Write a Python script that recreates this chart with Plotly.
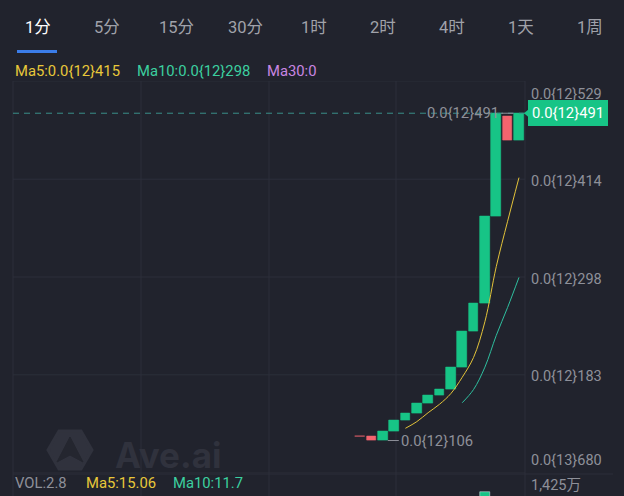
import plotly.graph_objects as go

W, H = 624, 496

# ---------------- data ----------------
tabs = ["1分", "5分", "15分", "30分", "1时", "2时", "4时", "1天", "1周"]
candle_idx = list(range(15))
opens = [111.2, 111.0, 105.8, 117.0, 129.0, 138.0, 150.0, 159.0, 166.5, 192.0, 234.0, 267.0, 370.0, 488.0, 459.0]
closes = [110.9, 105.8, 117.0, 129.0, 138.0, 150.0, 159.0, 166.5, 192.0, 234.0, 267.0, 370.0, 491.5, 459.0, 491.5]
ma5 = [None, None, None, None, 120.2, 128.0, 138.6, 148.5, 161.1, 180.3, 203.7, 245.9, 310.8, 364.2, 415.6]
ma10 = [None, None, None, None, None, None, None, None, None, 150.3, 165.9, 192.3, 229.7, 262.7, 298.0]
volume = [12, 30, 85, 140, 160, 190, 210, 170, 420, 680, 610, 1077, 930, 380, 260]
price_ticks = [68.0, 183.25, 298.5, 413.75, 529.0]
price_tick_labels = ["0.0{13}680", "0.0{12}183", "0.0{12}298", "0.0{12}414", "0.0{12}529"]
vol_axis_label = "1,425万"
legend_top = [("Ma5:0.0{12}415", "#e8c83a"), ("Ma10:0.0{12}298", "#3cd0a0"), ("Ma30:0", "#c986e2")]
legend_vol = [("VOL:2.8", "#8e9099"), ("Ma5:15.06", "#e8c83a"), ("Ma10:11.7", "#3cd0a0")]
last_label = "0.0{12}491"
max_label = "0.0{12}491"
min_label = "0.0{12}106"

# ---------------- style ----------------
BG = "#21232d"
GRID = "#2c2f3a"
GRAY = "#8e9099"
GREEN = "#17c486"
RED = "#f3646e"
YEL = "#e3c33a"
TEAL = "#2fbf9f"
FONT = "Roboto, 'Noto Sans CJK SC', sans-serif"


def px(x):
    return x / W


def py(y):
    return 1 - y / H


x_range = [-30.55, 14.53]
y_range = [68.0, 529.0]
dom_x = [px(13), px(525)]
dom_y = [py(472.6), py(81.4)]

colors = [GREEN if c >= o else RED for o, c in zip(opens, closes)]

fig = go.Figure()

# candles as bars
fig.add_trace(go.Bar(
    x=candle_idx, base=opens, y=[c - o for o, c in zip(opens, closes)],
    marker=dict(color=colors, line=dict(color=colors, width=0.6)),
    width=0.85, xaxis="x", yaxis="y", hoverinfo="skip", showlegend=False))

fig.add_trace(go.Scatter(x=candle_idx, y=ma5, mode="lines",
                         line=dict(color=YEL, width=1, shape="spline"),
                         xaxis="x", yaxis="y", showlegend=False, hoverinfo="skip"))
fig.add_trace(go.Scatter(x=candle_idx, y=ma10, mode="lines",
                         line=dict(color=TEAL, width=1, shape="spline"),
                         xaxis="x", yaxis="y", showlegend=False, hoverinfo="skip"))

# volume pane
fig.add_trace(go.Bar(x=candle_idx, y=volume, marker=dict(color=colors), width=0.85,
                     xaxis="x2", yaxis="y2", hoverinfo="skip", showlegend=False))

shapes = []
annotations = []

# horizontal grid lines
for v in price_ticks:
    shapes.append(dict(type="line", xref="paper", yref="y", x0=dom_x[0], x1=dom_x[1], y0=v, y1=v,
                       line=dict(color=GRID, width=1), layer="below"))
# bottom separator extends under labels
shapes.append(dict(type="line", xref="paper", yref="paper", x0=dom_x[0], x1=px(613), y0=py(474), y1=py(474),
                   line=dict(color=GRID, width=1), layer="below"))
# vertical grid lines
for xv in [13, 141, 269, 396, 525]:
    shapes.append(dict(type="line", xref="paper", yref="paper", x0=px(xv), x1=px(xv), y0=0, y1=py(81),
                       line=dict(color=GRID, width=1), layer="below"))

# watermark logo
hexa = [(48, 450), (59, 431), (81, 431), (92, 450), (81, 469), (59, 469)]
path = "M " + " L ".join(f"{px(a):.5f},{py(b):.5f}" for a, b in hexa) + " Z"
shapes.append(dict(type="path", xref="paper", yref="paper", path=path,
                   fillcolor="#30323d", line=dict(color="#30323d", width=3), layer="below"))
arrow = [(70, 437), (57, 462), (70, 455), (83, 462)]
path2 = "M " + " L ".join(f"{px(a):.5f},{py(b):.5f}" for a, b in arrow) + " Z"
shapes.append(dict(type="path", xref="paper", yref="paper", path=path2,
                   fillcolor="#24262f", line=dict(color="#24262f", width=1), layer="below"))
annotations.append(dict(xref="paper", yref="paper", x=px(113), y=py(455), text="<b>Ave.ai</b>",
                        showarrow=False, xanchor="left", yanchor="middle",
                        font=dict(family="Inter, Roboto, sans-serif", size=35, color="#30323d")))

# current price dashed line
shapes.append(dict(type="line", xref="paper", yref="y", x0=dom_x[0], x1=dom_x[1],
                   y0=closes[-1], y1=closes[-1], line=dict(color="#3a8f89", width=1, dash="6px,5px")))

# header tabs
for i, t in enumerate(tabs):
    annotations.append(dict(xref="paper", yref="paper", x=px(38 + 69 * i), y=py(28), text=t,
                            showarrow=False, xanchor="center", yanchor="middle",
                            font=dict(family=FONT, size=16.5, color="#ffffff" if i == 0 else "#a0a2aa")))
shapes.append(dict(type="rect", xref="paper", yref="paper", x0=px(17), x1=px(57), y0=py(53), y1=py(50),
                   fillcolor="#3b7de9", line=dict(width=0)))

# top legend
xpos = [13, 135, 265]
for (t, c), xp in zip(legend_top, xpos):
    annotations.append(dict(xref="paper", yref="paper", x=px(xp), y=py(71), text=t, showarrow=False,
                            xanchor="left", yanchor="middle", font=dict(family=FONT, size=14.8, color=c)))
# vol legend
xpos = [13, 84, 171]
for (t, c), xp in zip(legend_vol, xpos):
    annotations.append(dict(xref="paper", yref="paper", x=px(xp), y=py(483), text=t, showarrow=False,
                            xanchor="left", yanchor="middle", font=dict(family=FONT, size=14.8, color=c)))

# price axis labels
for i, (v, lab) in enumerate(zip(price_ticks, price_tick_labels)):
    if i == 0:
        ya, ys = "bottom", 2
    elif i == len(price_ticks) - 1:
        ya, ys = "top", -3
    else:
        ya, ys = "middle", -2
    annotations.append(dict(xref="paper", yref="y", x=px(529), y=v, text=lab, showarrow=False,
                            xanchor="left", yanchor=ya, yshift=ys,
                            font=dict(family=FONT, size=14.5, color=GRAY)))
annotations.append(dict(xref="paper", yref="paper", x=px(529), y=py(485), text=vol_axis_label, showarrow=False,
                        xanchor="left", yanchor="middle", font=dict(family=FONT, size=14.5, color=GRAY)))

# last price tag with pointer
shapes.append(dict(type="path", xref="paper", yref="y",
                   path=f"M {px(524):.5f},{closes[-1]} L {px(529):.5f},{closes[-1] + 5} L {px(529):.5f},{closes[-1] - 5} Z",
                   fillcolor=GREEN, line=dict(width=0)))
annotations.append(dict(xref="paper", yref="y", x=px(528), y=closes[-1], text=last_label, showarrow=False,
                        xanchor="left", yanchor="middle", bgcolor=GREEN, borderpad=3, borderwidth=1,
                        bordercolor=GREEN, font=dict(family=FONT, size=14.8, color="#ffffff")))

# max / min markers
imax = max(range(len(closes)), key=lambda i: max(opens[i], closes[i]))
imin = min(range(len(closes)), key=lambda i: min(opens[i], closes[i]))
annotations.append(dict(xref="x", yref="y", x=imax + 1.5, y=max(closes), text=max_label, showarrow=True,
                        arrowhead=0, arrowwidth=1, arrowcolor=GRAY, ax=-12, ay=0, xanchor="right",
                        font=dict(family=FONT, size=14.8, color=GRAY)))
annotations.append(dict(xref="x", yref="y", x=imin + 1.45, y=min(closes), text=min_label, showarrow=True,
                        arrowhead=0, arrowwidth=1, arrowcolor=GRAY, ax=11, ay=0, xanchor="left",
                        font=dict(family=FONT, size=14.8, color=GRAY)))

fig.update_layout(
    width=W, height=H, margin=dict(l=0, r=0, t=0, b=0),
    paper_bgcolor=BG, plot_bgcolor="rgba(0,0,0,0)",
    showlegend=False, bargap=0,
    xaxis=dict(domain=dom_x, range=x_range, showgrid=False, zeroline=False, showticklabels=False,
               fixedrange=True),
    yaxis=dict(domain=dom_y, range=y_range, showgrid=False, zeroline=False, showticklabels=False,
               fixedrange=True),
    xaxis2=dict(domain=dom_x, range=x_range, anchor="y2", showgrid=False, zeroline=False,
                showticklabels=False),
    yaxis2=dict(domain=[0, py(474)], range=[1000, 1425], anchor="x2", showgrid=False, zeroline=False,
                showticklabels=False),
    shapes=shapes, annotations=annotations,
)

fig.write_html("out.html", config={"displayModeBar": False},
               post_script="document.body.style.margin='0';document.body.style.background='%s';" % BG)
